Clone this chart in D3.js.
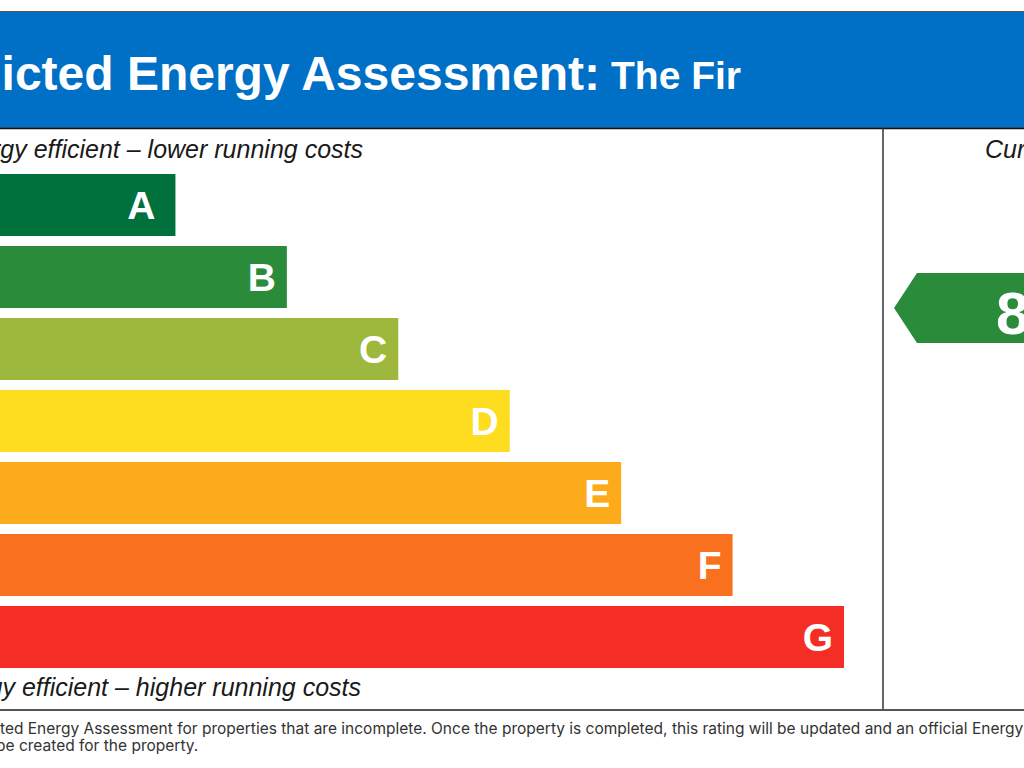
<!DOCTYPE html>
<html>
<head>
<meta charset="utf-8">
<script src="https://cdn.jsdelivr.net/npm/d3@7"></script>
<style>
  html, body { margin: 0; padding: 0; background: #fff; overflow: hidden; }
  svg { display: block; }
</style>
</head>
<body>
<script>
// Rating bands, top (most efficient) to bottom
const bands = ["A", "B", "C", "D", "E", "F", "G"];
// Relative bar length of each band (each band one step longer)
const barSteps = [1, 2, 3, 4, 5, 6, 7];
const bandColors = ["#00703d", "#2a8c3b", "#9db83c", "#fedc1f", "#fdab1b", "#f9711f", "#f42e25"];

// Current rating shown in the arrow
const currentBand = "B";
const currentRating = 84;

const titleMain = "Predicted Energy Assessment:";
const titleName = "The Fir";
const topLabel = "Very energy efficient \u2013 lower running costs";
const bottomLabel = "Not energy efficient \u2013 higher running costs";
const footLine1 = ["This is a Predic", "ted Energy Assessment for properties that are incomplete. Once the property is completed, this rating will be updated and an official Energy Performance Certificate will"];
const footLine2 = "be created for the property.";

const W = 1024, H = 768;
const sans = "'Liberation Sans', Arial, sans-serif";

const svg = d3.select("body")
  .append("svg")
  .attr("width", W)
  .attr("height", H);

// Header band
svg.append("rect")
  .attr("x", -5).attr("y", 11.5)
  .attr("width", W + 10).attr("height", 116.5)
  .attr("fill", "#006fc6")
  .attr("stroke", "#555")
  .attr("stroke-width", 1);

svg.append("line")
  .attr("x1", 0).attr("x2", W)
  .attr("y1", 128.5).attr("y2", 128.5)
  .attr("stroke", "#111")
  .attr("stroke-width", 1.5);

svg.append("text")
  .attr("x", 600).attr("y", 90)
  .attr("text-anchor", "end")
  .attr("fill", "#fff")
  .style("font-family", sans)
  .style("font-weight", "bold")
  .style("font-size", "48px")
  .text(titleMain);

svg.append("text")
  .attr("x", 611).attr("y", 89)
  .attr("fill", "#fff")
  .style("font-family", sans)
  .style("font-weight", "bold")
  .style("font-size", "39px")
  .text(titleName);

// Frame lines
svg.append("line")
  .attr("x1", 883).attr("x2", 883)
  .attr("y1", 128).attr("y2", 710)
  .attr("stroke", "#333")
  .attr("stroke-width", 1.5);

svg.append("line")
  .attr("x1", 0).attr("x2", W)
  .attr("y1", 710).attr("y2", 710)
  .attr("stroke", "#555")
  .attr("stroke-width", 2);

// Scales
const xScale = d3.scaleLinear()
  .domain([0, 7])
  .range([64, 844]);

const yScale = d3.scaleBand()
  .domain(bands)
  .range([174, 668])
  .paddingInner(10 / 72)
  .paddingOuter(0);

const data = bands.map((b, i) => ({ band: b, steps: barSteps[i], color: bandColors[i] }));

// Bars
svg.selectAll("rect.bar")
  .data(data)
  .enter()
  .append("rect")
  .attr("class", "bar")
  .attr("x", -20)
  .attr("y", d => yScale(d.band))
  .attr("width", d => xScale(d.steps) + 20)
  .attr("height", yScale.bandwidth())
  .attr("fill", d => d.color);

// Band letters
svg.selectAll("text.letter")
  .data(data)
  .enter()
  .append("text")
  .attr("class", "letter")
  .attr("x", d => xScale(d.steps) - (d.band === "A" ? 20 : 11))
  .attr("y", d => yScale(d.band) + yScale.bandwidth() / 2 + 14)
  .attr("text-anchor", "end")
  .attr("fill", "#fff")
  .style("font-family", sans)
  .style("font-weight", "bold")
  .style("font-size", "39px")
  .text(d => d.band);

// Top / bottom labels
const labelStyle = sel => sel
  .attr("fill", "#1a1a1a")
  .style("font-family", sans)
  .style("font-style", "italic")
  .style("font-size", "25px");

svg.append("text")
  .attr("x", 363).attr("y", 158)
  .attr("text-anchor", "end")
  .call(labelStyle)
  .text(topLabel);

svg.append("text")
  .attr("x", 361).attr("y", 696)
  .attr("text-anchor", "end")
  .call(labelStyle)
  .text(bottomLabel);

svg.append("text")
  .attr("x", 985).attr("y", 158)
  .call(labelStyle)
  .text("Current");

// Current rating arrow, centred on the lower edge of its band
const arrowH = 70;
const arrowCy = yScale(currentBand) + yScale.bandwidth();
const arrowX = 894;
const arrowPts = [
  [arrowX, arrowCy],
  [arrowX + 23, arrowCy - arrowH / 2],
  [W + 20, arrowCy - arrowH / 2],
  [W + 20, arrowCy + arrowH / 2],
  [arrowX + 23, arrowCy + arrowH / 2]
];
svg.append("polygon")
  .attr("points", arrowPts.map(p => p.join(",")).join(" "))
  .attr("fill", bandColors[bands.indexOf(currentBand)]);

svg.append("text")
  .attr("x", 996).attr("y", arrowCy + 26)
  .attr("fill", "#fff")
  .style("font-family", sans)
  .style("font-weight", "bold")
  .style("font-size", "60px")
  .text(currentRating);

// Footnote
const foot = svg.append("g")
  .attr("fill", "#333")
  .style("font-family", "Inter, sans-serif")
  .style("font-size", "15.5px");

foot.append("text")
  .attr("x", -1).attr("y", 734)
  .attr("text-anchor", "end")
  .text(footLine1[0]);

foot.append("text")
  .attr("x", 0).attr("y", 734)
  .text(footLine1[1]);

foot.append("text")
  .attr("x", -4).attr("y", 751)
  .text(footLine2);
</script>
</body>
</html>
